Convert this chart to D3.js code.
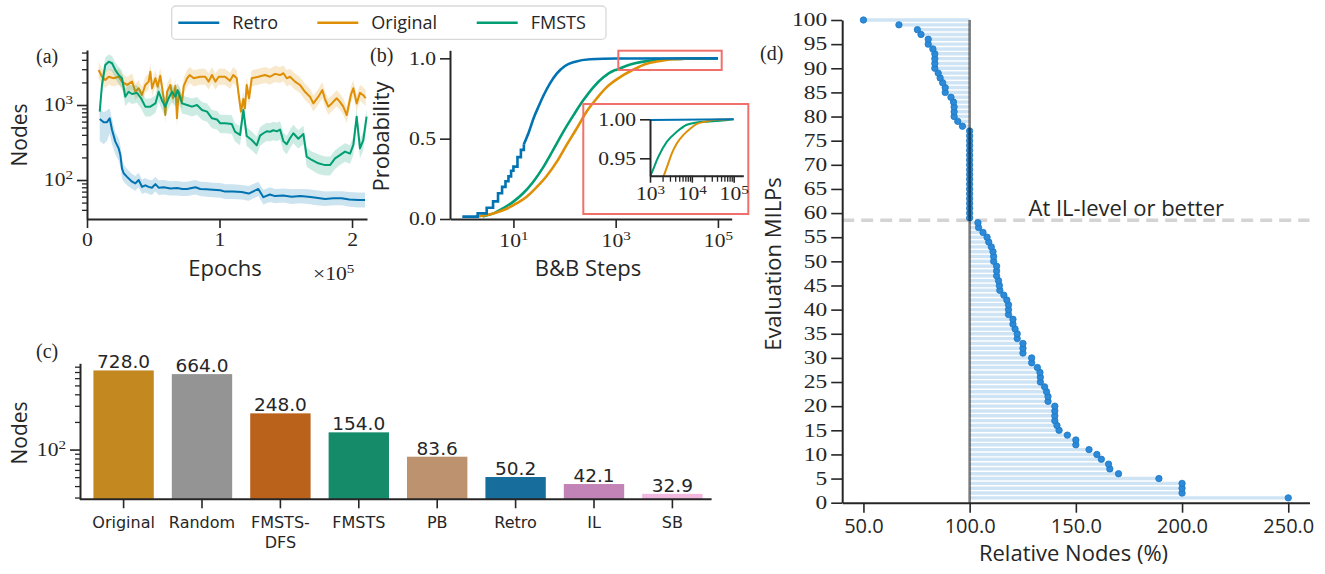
<!DOCTYPE html>
<html>
<head>
<meta charset="utf-8">
<script src="https://cdn.jsdelivr.net/npm/d3@7"></script>
<style>
  body { margin: 0; background: #fff; }
  svg { display: block; }
</style>
</head>
<body>
<svg id="vis" width="1325" height="574"></svg>
<script>
// ---------- data ----------
// (a) training curves, epochs in units of 1e5
const retroEpochs = [0.096,0.126,0.151,0.171,0.189,0.214,0.239,0.252,0.264,0.277,0.302,0.34,0.365,0.39,0.415,0.44,0.465,0.49,0.516,0.541,0.58,0.629,0.68,0.72,0.755,0.818,0.855,0.9,0.95,1.006,1.042,1.1,1.167,1.22,1.293,1.331,1.38,1.419,1.48,1.545,1.61,1.67,1.73,1.797,1.86,1.922,1.98,2.048,2.098]
const retroNodes = [650,588,590,665,464,325,264,215,143,123,110,95,90,100,81,85,81,79,88,79,80,77,78,76,76,80,76,75,74,73,70,70,69,66,76,59,64,61,62,60,61,60,58,56,57,57,55,54,54]
const retroLo = [330,300,330,420,300,220,180,150,105,95,85,76,72,80,65,68,65,63,70,63,64,62,62,61,61,64,61,60,59,58,56,56,55,53,61,47,51,49,50,48,49,48,46,45,46,46,44,43,43]
const retroHi = [900,800,850,900,650,430,360,290,190,160,140,120,113,125,101,106,101,99,110,99,100,96,97,95,95,100,95,94,92,91,88,88,86,83,95,74,80,76,77,75,76,75,73,70,71,71,69,68,68]

const origEpochs = [0.088,0.113,0.138,0.164,0.201,0.239,0.264,0.302,0.34,0.365,0.39,0.415,0.44,0.465,0.478,0.491,0.516,0.533,0.553,0.579,0.591,0.604,0.629,0.649,0.667,0.679,0.692,0.717,0.73,0.755,0.775,0.805,0.855,0.893,0.918,0.943,0.969,0.994,1.042,1.079,1.104,1.13,1.142,1.162,1.18,1.192,1.205,1.223,1.243,1.293,1.343,1.381,1.419,1.457,1.482,1.507,1.532,1.57,1.607,1.645,1.683,1.708,1.746,1.776,1.796,1.821,1.847,1.884,1.909,1.934,1.96,1.993,2.01,2.035,2.06,2.085,2.103]
const origNodes = [2930,2380,2150,2380,2270,2380,2050,1850,2050,1500,1670,1360,1850,2050,2780,1670,2270,1750,2450,1230,735,1500,1850,1230,1800,665,1500,1110,1800,2270,2510,2270,2380,2380,2050,2510,2050,2380,2380,2100,2510,2270,1500,815,1200,903,1850,1230,2270,2380,2510,2380,2600,2510,2650,2270,2380,2050,1850,1500,1290,1050,1290,1580,1200,950,1050,1230,1100,950,735,1400,1670,1050,1450,1350,1230]
const origLo = [2290,1860,1680,1860,1770,1860,1600,1440,1600,1170,1300,1060,1440,1600,2170,1300,1770,1370,1910,960,570,1170,1440,960,1400,520,1170,870,1400,1770,1960,1770,1860,1860,1600,1960,1600,1860,1860,1640,1960,1770,1170,640,940,700,1440,960,1770,1860,1960,1860,2030,1960,2070,1770,1860,1600,1440,1170,1010,820,1010,1230,940,740,820,960,860,740,570,1090,1300,820,1130,1050,960]
const origHi = [3750,3050,2750,3050,2910,3050,2620,2370,2620,1920,2140,1740,2370,2620,3560,2140,2910,2240,3140,1570,940,1920,2370,1570,2300,850,1920,1420,2300,2910,3210,2910,3050,3050,2620,3210,2620,3050,3050,2690,3210,2910,1920,1040,1540,1160,2370,1570,2910,3050,3210,3050,3330,3210,3390,2910,3050,2620,2370,1920,1650,1340,1650,2020,1540,1220,1340,1570,1410,1220,940,1790,2140,1340,1860,1730,1570]

const fmstsEpochs = [0.096,0.113,0.138,0.164,0.189,0.214,0.239,0.264,0.289,0.314,0.34,0.377,0.408,0.44,0.478,0.516,0.541,0.566,0.591,0.616,0.642,0.667,0.684,0.717,0.755,0.792,0.83,0.868,0.906,0.943,0.981,1.006,1.042,1.092,1.117,1.155,1.18,1.205,1.243,1.281,1.306,1.331,1.356,1.381,1.406,1.432,1.457,1.482,1.507,1.532,1.557,1.595,1.633,1.658,1.696,1.746,1.796,1.834,1.872,1.909,1.947,1.985,2.01,2.035,2.06,2.085,2.11]
const fmstsNodes = [815,1850,3410,3780,3600,2930,2510,2270,1290,1500,1400,1450,1230,950,950,1050,1500,1150,950,1230,1500,1290,1580,1050,1000,950,1000,858,815,665,640,570,570,560,441,398,858,385,341,290,390,420,445,440,460,445,470,330,300,360,420,355,410,205,185,167,158,158,194,215,239,225,293,698,264,341,698]
const fmstsLo = [620,1400,2700,3000,2800,2250,1900,1700,960,1100,1030,1070,900,700,700,780,1100,850,700,900,1100,950,1160,770,740,700,740,630,600,490,470,420,420,410,325,290,630,285,250,215,285,310,330,325,340,330,345,245,220,265,310,260,300,150,135,120,115,115,140,158,175,165,215,510,195,250,510]
const fmstsHi = [1050,2400,4300,4700,4500,3700,3200,2900,1650,1900,1800,1850,1580,1220,1220,1350,1900,1480,1220,1580,1900,1650,2000,1350,1280,1220,1280,1100,1050,860,830,740,740,730,575,520,1100,500,445,380,505,545,580,570,600,580,610,430,390,470,545,460,530,270,240,220,205,205,250,280,310,290,380,900,345,445,900]

// (b) cumulative distribution of B&B steps
const retroSteps = [1,2,3,4,5,6,7,8,9,10,12,14,16,20,25,31,39,52,71,102,162,316,1050,100000]
const retroCdf = [0.015,0.035,0.07,0.11,0.16,0.2,0.235,0.265,0.3,0.326,0.385,0.43,0.465,0.54,0.63,0.70,0.77,0.844,0.906,0.952,0.979,0.994,0.999,1.0]
const origSteps = [1.8,3,4.7,7.4,11.5,18.2,28.2,44.7,70.8,110,174,269,427,661,1047,2188,2630,3311,4365,6310,9120,13183,20893,31623,79433]
const origCdf = [0.015,0.025,0.041,0.064,0.097,0.139,0.197,0.268,0.357,0.461,0.565,0.668,0.751,0.819,0.869,0.929,0.941,0.956,0.969,0.98,0.988,0.994,0.997,0.999,1.0]
const fmstsSteps = [2.5,4.1,6.3,10,15.5,24.5,39,60,95,151,234,372,575,912,1047,1585,2512,4365,7586,13183,22909,47863,100000]
const fmstsCdf = [0.015,0.035,0.067,0.108,0.16,0.232,0.326,0.43,0.544,0.648,0.74,0.823,0.882,0.923,0.929,0.952,0.971,0.984,0.993,0.996,0.997,0.998,1.0]

// (c) mean nodes per method
const methods = ["Original","Random","FMSTS-DFS","FMSTS","PB","Retro","IL","SB"]
const methodNodes = [728.0,664.0,248.0,154.0,83.6,50.2,42.1,32.9]
const methodColors = ["#c38820","#949494","#ba611b","#168b6a","#bd926e","#176d9c","#c283b6","#f2b9e0"]

// (d) relative nodes (%) for evaluation MILPs 1..100
const milpIds = d3.range(1, 101)
const relNodes = [250,200,200,200,189.1,170.1,166,165.4,162,159.9,
  156.2,150,150,146,142.1,141.1,140.1,140.1,140.1,140.1,
  136.9,136.9,136.2,135.3,133.3,133.3,133.1,131.9,129.2,129.2,
  125.1,125.1,125.1,122.4,122.4,121.4,120.4,120.4,118.3,118.3,
  118.3,117.5,116.1,114.2,114,113.6,112.7,112.7,112.7,111.3,
  111.3,111,110.2,109,108.2,106.3,104.2,103.9,100,100,
  100,100,100,100,100,100,100,100,100,100,
  100,100,100,100,100,100,100,96.6,94.4,92.7,
  92.7,92.7,92.4,91.2,88.5,88.5,87.3,86.1,85.2,83.6,
  83.6,83.6,83.6,82.7,80.5,80.5,77.1,75.4,66.7,50]
const ilLevel = 58.5

// ---------- setup ----------
const svg = d3.select("#vis")
const ink = "#262626"
const serif = "'Liberation Serif', 'Times New Roman', serif"
const sans = "'Open Sans', 'DejaVu Sans', sans-serif"
const dvs = "'DejaVu Sans', sans-serif"
const blue = "#0173b2", orange = "#de8f05", green = "#029e73"
const red = "#f2706b"

function styleAxis(g, font, size) {
  g.select(".domain").attr("stroke", ink).attr("stroke-width", 2)
  g.selectAll(".tick line").attr("stroke", ink).attr("stroke-width", 1.6)
  g.selectAll(".tick text").attr("fill", ink).attr("font-family", font).attr("font-size", size)
}
// widen glyphs horizontally (the figure is stretched sideways)
function stretch(sel, k) {
  sel.each(function () {
    const t = d3.select(this), x = +t.attr("x") || 0
    t.attr("transform", `translate(${x},0) scale(${k},1) translate(${-x},0)`)
  })
}
function powerLabels(g) {
  g.selectAll(".tick text").each(function (d) {
    const t = d3.select(this).text(null)
    t.append("tspan").text("10")
    t.append("tspan").attr("dy", "-0.55em").attr("font-size", "0.7em").text(Math.round(Math.log10(d)))
  })
}
function minorAxis(axis, parent, transform) {
  const g = parent.append("g").attr("transform", transform).call(axis)
  g.select(".domain").remove()
  g.selectAll(".tick line").attr("stroke", ink).attr("stroke-width", 1.3)
  return g
}
function label(x, y, txt, font, size, anchor, rotate) {
  const t = svg.append("text").attr("font-family", font).attr("font-size", size)
    .attr("fill", ink).attr("text-anchor", anchor || "start").text(txt)
  if (rotate) t.attr("transform", `translate(${x},${y}) rotate(-90)`)
  else t.attr("x", x).attr("y", y)
  return t
}

// ---------- legend ----------
const legend = svg.append("g")
legend.append("rect").attr("x", 171.7).attr("y", 6).attr("width", 434.3).attr("height", 33.3)
  .attr("rx", 4).attr("fill", "#fff").attr("stroke", "#d9d9d9").attr("stroke-width", 1.3)
const legendItems = [["Retro", blue, 178.3], ["Original", orange, 317.3], ["FMSTS", green, 476.7]]
legendItems.forEach(([name, c, x0]) => {
  legend.append("line").attr("x1", x0).attr("x2", x0 + 41).attr("y1", 22.7).attr("y2", 22.7)
    .attr("stroke", c).attr("stroke-width", 2.5)
  legend.append("text").attr("x", x0 + 54).attr("y", 29).attr("font-family", sans)
    .attr("font-size", 18).attr("fill", ink).text(name)
})

// ---------- (a) ----------
const xa = d3.scaleLinear().domain([0, 2.113]).range([87, 367])
const ya = d3.scaleLog().domain([30.2, 5410]).range([219, 50])
const pa = svg.append("g")
const seriesA = [
  { c: blue, x: retroEpochs, m: retroNodes, lo: retroLo, hi: retroHi },
  { c: orange, x: origEpochs, m: origNodes, lo: origLo, hi: origHi },
  { c: green, x: fmstsEpochs, m: fmstsNodes, lo: fmstsLo, hi: fmstsHi }
]
seriesA.forEach(s => {
  const data = s.x.map((x, i) => ({ x, m: s.m[i], lo: s.lo[i], hi: s.hi[i] }))
  pa.append("path").datum(data).attr("fill", s.c).attr("fill-opacity", 0.2)
    .attr("d", d3.area().x(d => xa(d.x)).y0(d => ya(d.lo)).y1(d => ya(d.hi)))
  pa.append("path").datum(data).attr("fill", "none").attr("stroke", s.c).attr("stroke-width", 2)
    .attr("stroke-linejoin", "round").attr("d", d3.line().x(d => xa(d.x)).y(d => ya(d.m)))
})
const axA = pa.append("g").attr("transform", "translate(0,219)")
  .call(d3.axisBottom(xa).tickValues([0, 1, 2]).tickFormat(d3.format("d")).tickSize(9).tickSizeOuter(0).tickPadding(5))
styleAxis(axA, serif, 18); stretch(axA.selectAll(".tick text"), 1.2)
minorAxis(d3.axisLeft(ya).tickValues([40,50,60,70,80,90,200,300,400,500,600,700,800,900,2000,3000,4000,5000]).tickSize(5).tickFormat(""), pa, "translate(87,0)")
const ayA = pa.append("g").attr("transform", "translate(87,0)")
  .call(d3.axisLeft(ya).tickValues([100, 1000]).tickSize(10).tickSizeOuter(0).tickPadding(4))
styleAxis(ayA, serif, 18); powerLabels(ayA); stretch(ayA.selectAll(".tick text"), 1.2)
label(36, 63, "(a)", serif, 20)
label(27, 135, "Nodes", sans, 21, "middle", true)
label(225, 276, "Epochs", sans, 22, "middle")
const mult = label(313, 280, "", serif, 18)
mult.append("tspan").text("×10")
mult.append("tspan").attr("dy", "-0.55em").attr("font-size", "0.7em").text("5")
stretch(mult, 1.2)

// ---------- (b) ----------
const xb = d3.scaleLog().domain([0.575, 186000]).range([450, 731.7])
const yb = d3.scaleLinear().domain([0, 1.05]).range([219, 50.3])
const pb = svg.append("g")
const seriesB = [
  { c: green, x: fmstsSteps, p: fmstsCdf },
  { c: orange, x: origSteps, p: origCdf },
  { c: blue, x: retroSteps, p: retroCdf, stairs: 16 }
]
function drawCdf(parent, sx, sy, width) {
  seriesB.forEach(s => {
    const data = s.x.map((x, i) => ({ x, p: s.p[i] }))
    const smooth = d3.line().x(d => sx(d.x)).y(d => sy(d.p)).curve(d3.curveMonotoneX)
    const parts = s.stairs
      ? [[data.filter(d => d.x <= s.stairs), d3.curveStepAfter], [data.filter(d => d.x >= s.stairs), d3.curveMonotoneX]]
      : [[data, d3.curveMonotoneX]]
    parts.forEach(([pts, curve]) => {
      parent.append("path").datum(pts).attr("fill", "none").attr("stroke", s.c)
        .attr("stroke-width", width).attr("d", smooth.curve(curve))
    })
  })
}
drawCdf(pb, xb, yb, 2.6)
const axB = pb.append("g").attr("transform", "translate(0,219)")
  .call(d3.axisBottom(xb).tickValues([10, 1000, 100000]).tickSize(9).tickSizeOuter(0).tickPadding(6))
styleAxis(axB, serif, 18); powerLabels(axB); stretch(axB.selectAll(".tick text"), 1.2)
const ayB = pb.append("g").attr("transform", "translate(450,0)")
  .call(d3.axisLeft(yb).tickValues([0, 0.5, 1]).tickFormat(d3.format(".1f")).tickSize(10).tickSizeOuter(0).tickPadding(4))
styleAxis(ayB, serif, 18); stretch(ayB.selectAll(".tick text"), 1.2)
label(370, 62, "(b)", serif, 20)
label(389, 136.5, "Probability", sans, 22, "middle", true)
label(588, 276, "B&B Steps", sans, 22, "middle")

// zoom box and inset
pb.append("rect").attr("x", 618.3).attr("y", 50.7).attr("width", 103.4).attr("height", 19.3)
  .attr("fill", "none").attr("stroke", red).attr("stroke-width", 2)
pb.append("rect").attr("x", 583.3).attr("y", 104).attr("width", 165).attr("height", 110)
  .attr("fill", "none").attr("stroke", red).attr("stroke-width", 2)
const xi = d3.scaleLog().domain([1000, 170000]).range([650, 743.3])
const yi = d3.scaleLinear().domain([0.9277, 1.0]).range([175.7, 119.3])
svg.append("clipPath").attr("id", "insetClip").append("rect")
  .attr("x", 650).attr("y", 115).attr("width", 94).attr("height", 60.7)
const inset = pb.append("g").attr("clip-path", "url(#insetClip)")
drawCdf(inset, xi, yi, 2)
minorAxis(d3.axisBottom(xi).tickValues([2000,3000,4000,5000,6000,7000,8000,9000,20000,30000,40000,50000,60000,70000,80000,90000]).tickSize(6).tickFormat(""), pb, "translate(0,175.7)")
const axI = pb.append("g").attr("transform", "translate(0,175.7)")
  .call(d3.axisBottom(xi).tickValues([1000, 10000, 100000]).tickSize(7).tickSizeOuter(0).tickPadding(5))
styleAxis(axI, serif, 18); powerLabels(axI); stretch(axI.selectAll(".tick text"), 1.2)
const ayI = pb.append("g").attr("transform", "translate(650,0)")
  .call(d3.axisLeft(yi).tickValues([0.95, 1.0]).tickFormat(d3.format(".2f")).tickSize(10).tickSizeOuter(0).tickPadding(4))
styleAxis(ayI, serif, 18); stretch(ayI.selectAll(".tick text"), 1.2)

// ---------- (c) ----------
const xc = d3.scaleBand().domain(methods).range([84, 712]).paddingInner(0.23).paddingOuter(0.12)
const yc = d3.scaleLog().domain([28.7, 871]).range([499.3, 363.3])
const pc = svg.append("g")
pc.selectAll(".bar").data(methods).enter().append("rect").attr("class", "bar")
  .attr("x", d => xc(d)).attr("width", xc.bandwidth())
  .attr("y", (d, i) => yc(methodNodes[i])).attr("height", (d, i) => 499.3 - yc(methodNodes[i]))
  .attr("fill", (d, i) => methodColors[i])
pc.selectAll(".val").data(methods).enter().append("text").attr("class", "val")
  .attr("x", d => xc(d) + xc.bandwidth() / 2).attr("y", (d, i) => yc(methodNodes[i]) - 2)
  .attr("text-anchor", "middle").attr("font-family", dvs).attr("font-size", 18.5).attr("fill", ink)
  .text((d, i) => methodNodes[i].toFixed(1))
const axC = pc.append("g").attr("transform", "translate(0,499.3)")
  .call(d3.axisBottom(xc).tickSize(9).tickSizeOuter(0).tickPadding(5))
axC.select(".domain").attr("d", "M80,0H711.6")
styleAxis(axC, dvs, 16)
axC.selectAll(".tick text").each(function (d) {
  const t = d3.select(this).text(null).attr("dy", null).attr("y", 29)
  const parts = d === "FMSTS-DFS" ? ["FMSTS-", "DFS"] : [d]
  parts.forEach((p, i) => t.append("tspan").attr("x", 0).attr("dy", i ? 20 : 0).text(p))
})
minorAxis(d3.axisLeft(yc).tickValues([30,40,50,60,70,80,90,200,300,400,500,600,700,800]).tickSize(5).tickFormat(""), pc, "translate(80,0)")
const ayC = pc.append("g").attr("transform", "translate(80,0)")
  .call(d3.axisLeft(yc).tickValues([100]).tickSize(10).tickSizeOuter(0).tickPadding(4))
styleAxis(ayC, serif, 18); powerLabels(ayC); stretch(ayC.selectAll(".tick text"), 1.2)
label(36, 358, "(c)", serif, 20)
label(26.5, 433, "Nodes", sans, 21, "middle", true)

// ---------- (d) ----------
const xd = d3.scaleLinear().domain([40, 260]).range([842.2, 1309.5])
const yd = d3.scaleLinear().domain([0, 100]).range([502.7, 20])
const pd = svg.append("g")
pd.selectAll(".stem").data(milpIds).enter().append("line").attr("class", "stem")
  .attr("x1", xd(100)).attr("x2", (d, i) => xd(relNodes[i]))
  .attr("y1", d => yd(d)).attr("y2", d => yd(d))
  .attr("stroke", "#3a8fd4").attr("stroke-opacity", 0.25).attr("stroke-width", 3.4)
pd.append("line").attr("x1", xd(40)).attr("x2", xd(260)).attr("y1", yd(ilLevel)).attr("y2", yd(ilLevel))
  .attr("stroke", "#d4d4d4").attr("stroke-width", 3.5).attr("stroke-dasharray", "12,7")
pd.selectAll(".dot").data(milpIds).enter().append("circle").attr("class", "dot")
  .attr("cx", (d, i) => xd(relNodes[i])).attr("cy", d => yd(d)).attr("r", 3.2)
  .attr("fill", "#2c8ad8").attr("stroke", "#1c78c4").attr("stroke-width", 0.8)
pd.append("line").attr("x1", xd(100)).attr("x2", xd(100)).attr("y1", yd(0)).attr("y2", yd(100))
  .attr("stroke", "#000").attr("stroke-opacity", 0.5).attr("stroke-width", 2.6)
const axD = pd.append("g").attr("transform", "translate(0,502.7)")
  .call(d3.axisBottom(xd).tickValues([50, 100, 150, 200, 250]).tickFormat(d3.format(".1f")).tickSize(10).tickSizeOuter(0).tickPadding(6))
styleAxis(axD, sans, 20)
const ayD = pd.append("g").attr("transform", "translate(842.2,0)")
  .call(d3.axisLeft(yd).tickValues(d3.range(0, 101, 5)).tickSize(11).tickSizeOuter(0).tickPadding(4))
styleAxis(ayD, serif, 18); stretch(ayD.selectAll(".tick text"), 1.3)
label(1028.5, 216, "At IL-level or better", sans, 22)
label(760, 60, "(d)", serif, 20)
label(781, 264, "Evaluation MILPs", sans, 22, "middle", true)
label(1073.5, 561, "Relative Nodes (%)", sans, 22, "middle")
</script>
</body>
</html>
